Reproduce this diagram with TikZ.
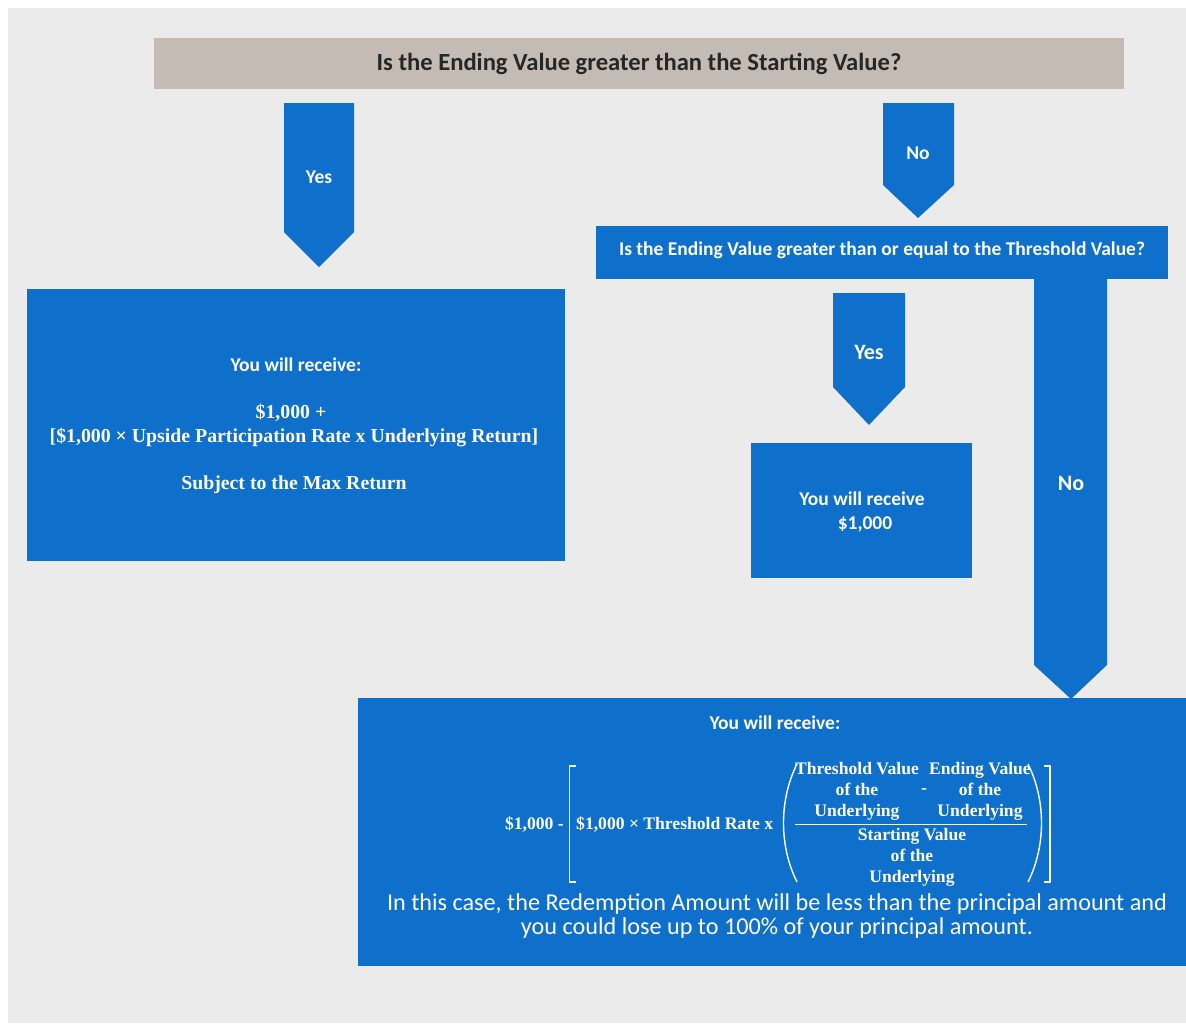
\documentclass[tikz,border=0pt]{standalone}
\usepackage{fontspec}
\setmainfont{Carlito}
\newfontfamily\serifb{Liberation Serif}[BoldFont={Liberation Serif Bold}]
\definecolor{bgray}{RGB}{235,235,235}
\definecolor{tan}{RGB}{196,187,180}
\definecolor{blu}{RGB}{14,112,202}
\tikzset{
  bluebox/.style={fill=blu, draw=none, inner sep=0pt},
  blockarrow/.style={fill=blu, draw=none},
  wt/.style={text=white, font=\bfseries\fontsize{19.5}{23}\selectfont, inner sep=0pt},
  ws/.style={text=white, font=\serifb\bfseries\fontsize{19.8}{24}\selectfont, inner sep=0pt},
  wf/.style={text=white, font=\serifb\bfseries\fontsize{17.6}{21}\selectfont, inner sep=0pt},
  glyph/.style={draw=white, line width=1.4pt},
}
\begin{document}
\begin{tikzpicture}[x=1pt,y=-1pt]
\useasboundingbox (0,0) rectangle (1186,1023);
\fill[white] (0,0) rectangle (1186,1023);
\fill[bgray] (8,8) rectangle (1186,1023);

% top question
\node[fill=tan, minimum width=970pt, minimum height=51pt, anchor=north west, inner sep=0pt] (q1) at (154,38) {};
\node[font=\bfseries\fontsize{24.6}{28}\selectfont, text=black!85, inner sep=0pt] (q1t) at (639,64) {Is the Ending Value greater than the Starting Value?};

% yes arrow (left)
\fill[blockarrow] (284,103) -- (354,103) -- (354,232) -- (319,267) -- (284,232) -- cycle;
\node[wt] (yes1) at (319,177) {Yes};

% no arrow (top right)
\fill[blockarrow] (883,103) -- (954,103) -- (954,185) -- (918,218) -- (883,185) -- cycle;
\node[wt] (no1) at (918,153) {No};

% second question
\node[bluebox, minimum width=572pt, minimum height=53pt, anchor=north west] (q2) at (596,226) {};
\node[wt] (q2t) at (882,250) {Is the Ending Value greater than or equal to the Threshold Value?};

% yes arrow 2
\fill[blockarrow] (833,293) -- (905,293) -- (905,387) -- (869,425) -- (833,387) -- cycle;
\node[wt, font=\bfseries\fontsize{22}{26}\selectfont] (yes2) at (869,352) {Yes};

% no big arrow
\fill[blockarrow] (1034,278) -- (1107,278) -- (1107,665) -- (1071,699) -- (1034,665) -- cycle;
\node[wt, font=\bfseries\fontsize{22}{26}\selectfont] (no2) at (1071,483) {No};

% left result box
\node[bluebox, minimum width=538pt, minimum height=272pt, anchor=north west] (left) at (27,289) {};
\node[wt] (l1) at (296,365) {You will receive:};
\node[ws] (l2) at (291,413) {\$1,000 +};
\node[ws] (l3) at (294,438) {[\$1,000 × Upside Participation Rate x Underlying Return]};
\node[ws] (l4) at (294,485) {Subject to the Max Return};

% middle result box
\node[bluebox, minimum width=221pt, minimum height=135pt, anchor=north west] (mid) at (751,443) {};
\node[wt] (m1) at (862,499) {You will receive};
\node[wt] (m2) at (865,524) {\$1,000};

% bottom result box
\node[bluebox, minimum width=828pt, minimum height=268pt, anchor=north west] (bot) at (358,698) {};
\node[wt] (b1) at (775,723) {You will receive:};
\node[wf, anchor=east] (f1) at (564,824) {\$1,000 -};
\draw[glyph, line width=1.8pt] (576,766) -- (569.5,766) -- (569.5,882) -- (576,882);
\node[wf, anchor=west] (f2) at (576,824) {\$1,000 × Threshold Rate x};
\draw[glyph] (797,764) .. controls (779,800) and (779,846) .. (797,882);
\node[wf, align=center] (n1) at (857,791) {Threshold Value\\of the\\Underlying};
\node[wf] (n2) at (924,791) {-};
\node[wf, align=center] (n3) at (980,791) {Ending Value\\of the\\Underlying};
\draw[white, line width=1pt] (795,824) -- (1027,824);
\node[wf, align=center] (d1) at (912,857) {Starting Value\\of the\\Underlying};
\draw[glyph] (1028,764) .. controls (1046,800) and (1046,846) .. (1028,882);
\draw[glyph, line width=1.8pt] (1044,766) -- (1050,766) -- (1050,882) -- (1044,882);
\node[text=white, font=\fontsize{24.2}{24.5}\selectfont, align=center, inner sep=0pt] (b2) at (777,916) {In this case, the Redemption Amount will be less than the principal amount and\\you could lose up to 100\% of your principal amount.};
\end{tikzpicture}
\end{document}
